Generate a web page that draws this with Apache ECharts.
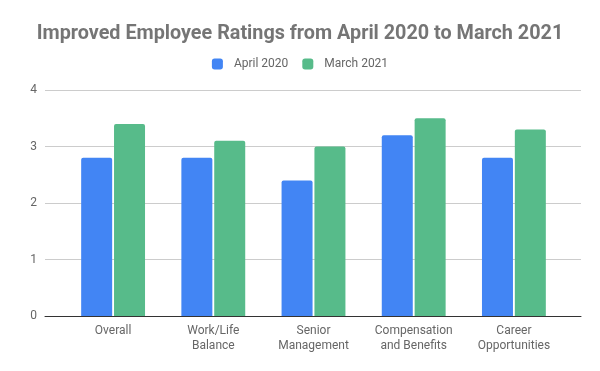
<!DOCTYPE html>
<html><head><meta charset="utf-8">
<script src="https://cdn.jsdelivr.net/npm/echarts@6/dist/echarts.min.js"></script>
<style>html,body{margin:0;padding:0;background:#fff}#c{width:600px;height:371px}</style>
</head><body><div id="c"></div>
<script>
const categories = ["Overall", "Work/Life\nBalance", "Senior\nManagement", "Compensation\nand Benefits", "Career\nOpportunities"];
const april2020 = [2.8, 2.8, 2.4, 3.2, 2.8];
const march2021 = [3.4, 3.1, 3.0, 3.5, 3.3];
const seriesNames = ["April 2020", "March 2021"];
const yMin = 0, yMax = 4, yStep = 1;

const chart = echarts.init(document.getElementById('c'), null, {renderer: 'canvas'});
chart.setOption({
  animation: false,
  textStyle: {fontFamily: 'Roboto'},
  title: {
    text: 'Improved Employee Ratings from April 2020 to March 2021',
    left: 'center', top: 19,
    textStyle: {fontFamily: 'Roboto', fontSize: 19.8, fontWeight: 'bold', color: '#757575'}
  },
  legend: {
    top: 53, left: 'center',
    itemWidth: 11, itemHeight: 11, itemGap: 14,
    icon: 'roundRect',
    textStyle: {fontFamily: 'Roboto', fontSize: 12, color: '#666', padding: [0, 0, 0, 6]},
    data: seriesNames
  },
  grid: [
    {left: 45, right: 19, top: 90, bottom: 55},
    {left: 63, right: 36, top: 90, bottom: 55}
  ],
  xAxis: [
    {gridIndex: 0, type: 'value', min: 0, max: 1, show: true,
     axisLine: {show: true, onZero: false, lineStyle: {color: '#333', width: 1}},
     axisTick: {show: false}, axisLabel: {show: false}, splitLine: {show: false}},
    {gridIndex: 1, type: 'category', data: categories,
     axisLine: {show: false},
     axisTick: {show: false},
     axisLabel: {interval: 0, fontFamily: 'Roboto', fontSize: 12, color: '#666', lineHeight: 15, margin: 7}}
  ],
  yAxis: [
    {gridIndex: 0, type: 'value', min: yMin, max: yMax, interval: yStep,
     axisLine: {show: false}, axisTick: {show: false},
     splitLine: {lineStyle: {color: '#ccc'}},
     axisLabel: {fontFamily: 'Roboto', fontSize: 12, color: '#666', margin: 8}},
    {gridIndex: 1, type: 'value', min: yMin, max: yMax, interval: yStep, show: false,
     splitLine: {show: false}}
  ],
  series: [
    {name: seriesNames[0], type: 'bar', xAxisIndex: 1, yAxisIndex: 1, data: april2020, barWidth: 31, barGap: '6%',
     itemStyle: {color: '#4285f4', borderRadius: [2,2,0,0]}},
    {name: seriesNames[1], type: 'bar', xAxisIndex: 1, yAxisIndex: 1, data: march2021, barWidth: 31, barGap: '6%',
     itemStyle: {color: '#57bb8a', borderRadius: [2,2,0,0]}}
  ]
});
</script></body></html>
